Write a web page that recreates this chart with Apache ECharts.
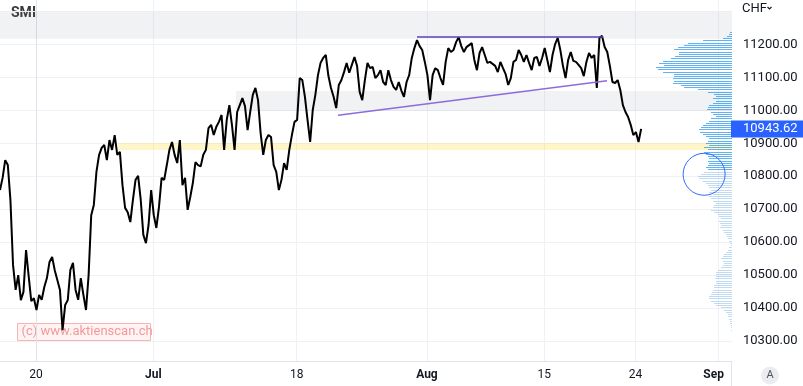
<!DOCTYPE html>
<html><head><meta charset="utf-8">
<script src="https://cdn.jsdelivr.net/npm/echarts@6/dist/echarts.min.js"></script>
<style>html,body{margin:0;padding:0;background:#fff;overflow:hidden}#c{width:803px;height:386px}</style>
</head><body><div id="c"></div>
<script>
const TITLE = 'SMI';
const CURRENCY = 'CHF';
const WATERMARK = '(c) www.aktienscan.ch';

// x axis = trading-day index (0 = 20 Jun)
const dayLabelValues = [0, 9, 20, 30, 39, 46, 52];
const dayLabels = ['20', 'Jul', '18', 'Aug', '15', '24', 'Sep'];
const dayGridValues = [0, 9, 20, 30, 39, 46, 52.33];
const monthLabels = ['Jul', 'Aug', 'Sep'];
const X_MIN = -2.763, X_MAX = 53.41;

// price path (SMI, intraday samples every 0.2 trading days)
const PRICE_T0 = -2.763, PRICE_STEP = 0.2;
const priceValues = [
10758,10795,10849,10834,10728,10531,10455,10500,10424,10449,
10576,10497,10421,10430,10394,10440,10425,10464,10491,10540,
10555,10515,10485,10455,10333,10409,10424,10516,10537,10455,
10425,10491,10440,10394,10500,10682,10713,10813,10864,10886,
10895,10849,10910,10880,10925,10865,10874,10773,10704,10691,
10661,10728,10789,10801,10728,10622,10597,10652,10758,10682,
10643,10707,10795,10789,10834,10880,10904,10865,10840,10910,
10773,10795,10698,10737,10780,10843,10834,10830,10865,10880,
10946,10956,10925,10950,10965,10986,10880,10971,11016,10956,
10880,10995,11016,11037,11013,10940,10995,11047,11068,11031,
10931,10865,10910,10925,10919,10834,10813,10758,10789,10840,
10819,10880,10925,10965,10971,11098,11092,11041,10971,10904,
11001,11047,11107,11144,11159,11168,11105,11068,11041,11007,
11077,11092,11116,11144,11114,11138,11162,11135,11056,11031,
11092,11144,11128,11132,11098,11107,11122,11086,11077,11122,
11092,11071,11062,11086,11060,11041,11086,11107,11159,11189,
11213,11195,11183,11147,11107,11031,11107,11128,11122,11098,
11077,11147,11189,11177,11183,11207,11222,11195,11177,11192,
11198,11204,11153,11122,11174,11192,11168,11144,11147,11141,
11135,11116,11147,11128,11110,11077,11098,11147,11153,11183,
11168,11147,11168,11144,11122,11159,11162,11135,11159,11189,
11153,11116,11168,11201,11220,11183,11135,11098,11153,11177,
11150,11147,11138,11128,11104,11147,11174,11159,11168,11068,
11220,11226,11192,11177,11135,11086,11083,11092,11062,11016,
10995,10980,10956,10925,10934,10904,10943.62];
const lastPrice = 10943.62;

// y axis
const Y_MIN = 10239.3, Y_MAX = 11334.9;
const priceGridValues = [10300,10400,10500,10600,10700,10800,10900,11000,11100,11200,11300];
const priceLabelValues = [10300,10400,10500,10600,10700,10800,10900,11000,11100,11200];

// zones and drawings
const zoneTop = [11217, 11299];
const zoneMid = [15.35, 10998, 11059];
const zoneYellow = [6.29, 10880, 10901];
const resistanceLine = [[29.24, 11223], [43.51, 11223]];
const supportLine = [[23.18, 10985], [43.82, 11090]];
const circleMark = [51.27, 10806];

// volume profile (rows from top price, step in index points; relative volume)
const profileTop = 11239, profileStep = 6.75;
const valueAreaLow = 10820;
const profileVolume = [2,3,5,9,29,44,48,54,58,53,53,57,61,69,73,68,76,74,69,58,58,59,58,59,51,48,34,24,18,16,19,16,19,23,24,25,21,19,16,21,23,26,29,31,33,32,29,26,23,24,26,23,28,24,28,26,24,23,24,23,24,26,24,28,31,34,33,29,26,24,23,21,23,19,23,21,19,16,18,19,21,18,14,13,11,13,12,11,12,9,8,6,5,4,3,2,1,3,4,6,8,9,11,9,8,9,11,14,16,16,16,17,16,16,18,18,19,20,21,23,23,21,18,16,11,8,6,4,4,3,2,2,1,1,1];
const PROFILE_AXIS_MAX = 732;

const FONT = 'Roboto, "Noto Sans", sans-serif';

const priceData = priceValues.map((v, i) => [PRICE_T0 + i * PRICE_STEP, v]);
const profileData = profileVolume.map((v, i) => [v, profileTop - i * profileStep]);

const chart = echarts.init(document.getElementById('c'), null, {renderer: 'canvas'});
chart.setOption({
  animation: false,
  backgroundColor: '#ffffff',
  grid: {left: 0, right: 71, top: 0, bottom: 25, containLabel: false},
  xAxis: [{
    type: 'value', min: X_MIN, max: X_MAX,
    axisLine: {show: true, lineStyle: {color: '#e0e3eb'}},
    axisTick: {show: false, customValues: dayGridValues},
    splitLine: {show: true, lineStyle: {color: '#eff1f5', width: 1}},
    axisLabel: {
      customValues: dayLabelValues, margin: 8, fontSize: 12, color: '#131722', fontFamily: FONT,
      formatter: function (v) {
        let k = -1;
        dayLabelValues.forEach((d, i) => { if (Math.abs(d - v) < 0.01) k = i; });
        if (k < 0) return '';
        const t = dayLabels[k];
        return monthLabels.indexOf(t) >= 0 ? '{b|' + t + '}' : t;
      },
      rich: {b: {fontWeight: 'bold', fontSize: 12, color: '#131722', fontFamily: FONT}}
    }
  }, {
    type: 'value', min: 0, max: PROFILE_AXIS_MAX, inverse: true, show: false,
    splitLine: {show: false}
  }],
  yAxis: [{
    type: 'value', position: 'right', min: Y_MIN, max: Y_MAX, scale: true,
    axisLine: {show: true, lineStyle: {color: '#e0e3eb'}},
    axisTick: {show: false, customValues: priceGridValues},
    splitLine: {show: true, lineStyle: {color: '#eff1f5', width: 1}},
    axisLabel: {
      customValues: priceLabelValues, margin: 11, fontSize: 13, color: '#131722', fontFamily: FONT,
      formatter: v => v.toFixed(2)
    }
  }],
  series: [{
    type: 'custom', name: 'profile', xAxisIndex: 1, yAxisIndex: 0, z: 2, silent: true,
    data: profileData,
    renderItem: function (params, api) {
      const vol = api.value(0), price = api.value(1);
      const p0 = api.coord([0, price]);
      const p1 = api.coord([vol, price]);
      return {
        type: 'rect',
        shape: {x: Math.round(p1[0]), y: Math.round(p0[1]), width: Math.round(p0[0]) - Math.round(p1[0]), height: 1},
        style: {fill: price >= valueAreaLow ? 'rgba(33,150,243,0.72)' : 'rgba(90,160,225,0.38)'}
      };
    }
  }, {
    type: 'line', name: TITLE, z: 3, data: priceData, showSymbol: false, symbol: 'none',
    lineStyle: {color: '#000000', width: 2}, silent: true,
    markArea: {
      silent: true,
      data: [
        [{yAxis: zoneTop[0], itemStyle: {color: 'rgba(120,130,150,0.1)'}}, {yAxis: zoneTop[1]}],
        [{xAxis: zoneMid[0], yAxis: zoneMid[1], itemStyle: {color: 'rgba(120,130,150,0.1)'}}, {xAxis: X_MAX, yAxis: zoneMid[2]}],
        [{xAxis: zoneYellow[0], yAxis: zoneYellow[1], itemStyle: {color: 'rgba(250,220,50,0.27)'}}, {xAxis: X_MAX, yAxis: zoneYellow[2]}]
      ]
    },
    markLine: {
      silent: true, symbol: 'none',
      data: [
        [{coord: resistanceLine[0], lineStyle: {color: '#5b3fbd', width: 1.5, type: 'solid'}, label: {show: false}}, {coord: resistanceLine[1]}],
        [{coord: supportLine[0], lineStyle: {color: '#8e6bd9', width: 1.5, type: 'solid'}, label: {show: false}}, {coord: supportLine[1]}]
      ]
    },
    markPoint: {
      silent: true, symbol: 'circle', symbolSize: 42,
      itemStyle: {color: 'rgba(0,0,0,0)', borderColor: '#2f6bff', borderWidth: 1},
      label: {show: false},
      data: [{coord: circleMark}]
    }
  }, {
    type: 'line', name: 'last', z: 6, data: [], silent: true,
    markLine: {
      silent: true, symbol: 'none',
      data: [{yAxis: lastPrice, lineStyle: {color: 'rgba(0,0,0,0)', width: 0}, label: {
        show: true, position: 'end', distance: -1, formatter: lastPrice.toFixed(2),
        backgroundColor: '#2962ff', color: '#ffffff', fontSize: 13, fontFamily: FONT,
        padding: [2, 8, 2, 12], lineHeight: 13
      }}]
    }
  }],
  graphic: [
    {type: 'text', left: 11, top: 6, style: {text: TITLE, font: 'bold 14px ' + FONT, fill: '#3a3a3a'}},
    {type: 'text', left: 742, top: 2, style: {text: CURRENCY, font: '13px ' + FONT, fill: '#131722'}},
    {type: 'polyline', shape: {points: [[767.5, 7], [769.5, 9], [771.5, 7]]}, style: {stroke: '#131722', lineWidth: 1.2, fill: null}},
    {type: 'line', shape: {x1: 731.5, y1: 361, x2: 731.5, y2: 386}, style: {stroke: '#e0e3eb', lineWidth: 1}},
    {type: 'circle', shape: {cx: 770, cy: 375.5, r: 9}, style: {fill: '#ebecf0'}},
    {type: 'text', x: 770, y: 375.5, style: {text: 'A', font: '11px ' + FONT, fill: '#50535e', align: 'center', verticalAlign: 'middle'}},
    {type: 'group', left: 17, top: 323, children: [
      {type: 'rect', shape: {x: 0, y: 0, width: 133, height: 17}, style: {fill: '#fff3f3', stroke: '#f7b4b4', lineWidth: 1}},
      {type: 'text', x: 4, y: 8.5, style: {text: WATERMARK, font: '13px ' + FONT, fill: '#f29a9a', verticalAlign: 'middle'}}
    ]}
  ]
});
</script>
</body></html>
